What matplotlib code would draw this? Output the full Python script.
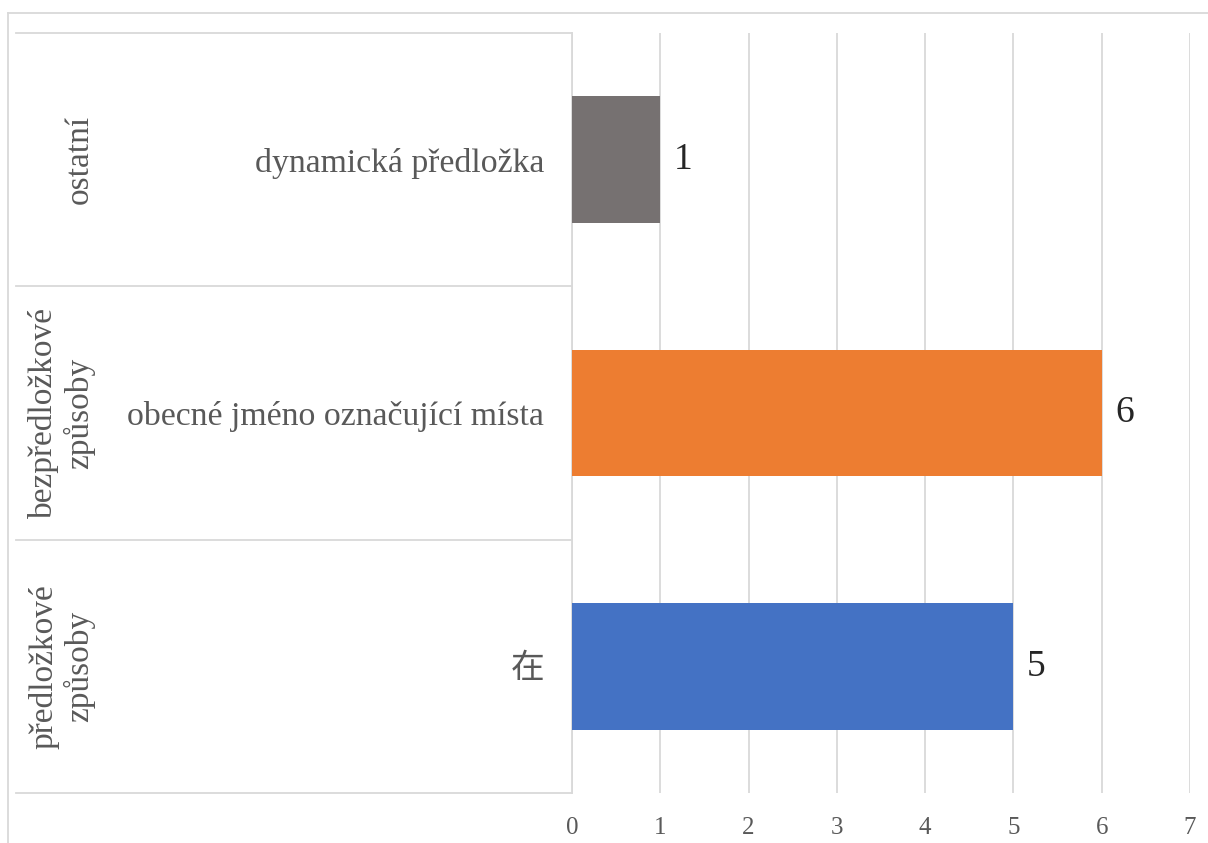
import matplotlib.pyplot as plt
from matplotlib.lines import Line2D
import matplotlib.transforms as mtransforms

# data
groups = ["předložkové\nzpůsoby", "bezpředložkové\nzpůsoby", "ostatní"]
categories = ["在", "obecné jméno označující místa", "dynamická předložka"]
values = [5, 6, 1]
colors = ["#4472C4", "#ED7D31", "#767171"]
xticks = [0, 1, 2, 3, 4, 5, 6, 7]

fonts = ["Liberation Serif", "Noto Sans CJK SC", "DejaVu Sans"]
plt.rcParams["font.family"] = fonts
txt = "#595959"
grid = "#D9D9D9"

W, H = 1208, 843
fig = plt.figure(figsize=(W / 100, H / 100), dpi=100)
ax = fig.add_axes([572 / W, 50 / H, 618 / W, 760 / H])

ypos = list(range(len(categories)))
ax.barh(ypos, values, height=0.5, color=colors, zorder=3)
for y, v in zip(ypos, values):
    ax.text(v + 0.15, y, str(v), va="center", ha="left", fontsize=27, color="#262626")

ax.set_xlim(0, 7)
ax.set_ylim(-0.5, len(categories) - 0.5)
ax.set_xticks(xticks)
ax.set_xticklabels([str(t) for t in xticks], fontsize=18, color=txt)
ax.tick_params(axis="x", length=0, pad=17)
ax.set_yticks(ypos)
ax.set_yticklabels(categories, fontsize=24.3, color=txt)
ax.tick_params(axis="y", length=0, pad=20)
ax.grid(axis="x", color=grid, linewidth=1.3, zorder=0)
for s in ["top", "right", "bottom"]:
    ax.spines[s].set_visible(False)
ax.spines["left"].set_color(grid)
ax.spines["left"].set_linewidth(1.3)

# separators between the category groups
tr = mtransforms.blended_transform_factory(ax.transAxes, ax.transData)
x0 = (16 - 572) / 618
for b in [-0.5, 0.5, 1.5, 2.5]:
    ax.plot([x0, 0], [b, b], transform=tr, color=grid, lw=1.3, clip_on=False)

# group labels, rotated
for y, g in zip(ypos, groups):
    ax.text((95 - 572) / 618, y, g, transform=tr, rotation=90, ha="right",
            va="center", multialignment="center", fontsize=24, color=txt,
            linespacing=1.15)

# chart frame
fig.add_artist(Line2D([8 / W, 8 / W], [0, 1 - 13 / H], color=grid, lw=1.3))
fig.add_artist(Line2D([8 / W, 1], [1 - 13 / H, 1 - 13 / H], color=grid, lw=1.3))

fig.savefig("out.png", dpi=100)
